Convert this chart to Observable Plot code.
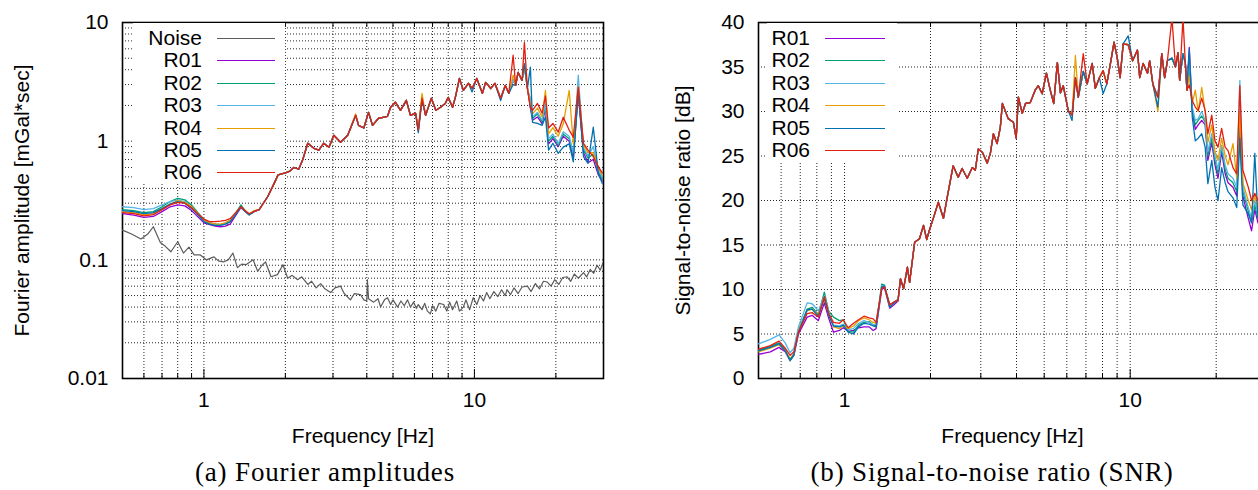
<!DOCTYPE html>
<html><head><meta charset="utf-8">
<script src="https://cdn.jsdelivr.net/npm/d3@7"></script>
<script src="https://cdn.jsdelivr.net/npm/@observablehq/plot@0.6"></script>
<style>
html,body{margin:0;padding:0;background:#fff;}
#wrap{position:relative;width:1258px;height:490px;overflow:hidden;background:#fff;font-family:"Liberation Sans",Arial,sans-serif;color:#000;}
.panel{position:absolute;top:0;}
.legend{position:absolute;background:#fff;}
.row{position:absolute;left:0;width:100%;height:22px;}
.row span{position:absolute;font-size:21px;line-height:22px;text-align:right;white-space:nowrap;}
.row i{position:absolute;top:11px;height:0;border-top:1.5px solid;}
.caption{position:absolute;font-family:"Liberation Serif",serif;font-size:27px;letter-spacing:0.85px;white-space:nowrap;transform:translateX(-50%);line-height:27px;height:27px;}
</style></head><body><div id="wrap"></div>
<script>
// ---------- shared ----------
const seriesNames = ["R01","R02","R03","R04","R05","R06"];
const seriesColors = ["#9400D3","#009E73","#56B4E9","#E69F00","#0072B2","#E51E10"];
const noiseColor = "#5c5c5c";
const xMajorTicks = [1, 10];
const xGridTicks = [0.6,0.7,0.8,0.9,1,2,3,4,5,6,7,8,9,10,20];

// ---------- (a) Fourier amplitudes ----------
const ampMajorTicks = [0.01, 0.1, 1, 10];
const ampGridTicks = [0.02,0.03,0.04,0.05,0.06,0.07,0.08,0.09,0.1,0.2,0.3,0.4,0.5,0.6,0.7,0.8,0.9,1,2,3,4,5,6,7,8,9];
const ampFreq = [0.5,0.55,0.6,0.65,0.7,0.75,0.8,0.85,0.9,0.95,1.0,1.05,1.1,1.15,1.2,1.25,1.3,1.37,1.42,1.47,1.53,1.6,
 1.72,1.8,1.88,2.0,2.08,2.15,2.24,2.32,2.42,2.55,2.66,2.77,2.9,3.02,3.2,3.4,3.64,3.73,3.9,4.06,4.2,4.42,4.6,4.77,4.9,5.1,5.33,5.6,5.8,6.06,6.2,6.4,6.6,6.93,7.2,7.5,7.8,8.0,8.3,8.5,8.8,9.1,9.5,9.8,10.2,10.7,11.0,11.5,11.9,12.5,13.0,13.4,13.9,14.2,14.5,15.0,15.3,15.7,
 16.1,16.4,17.1,17.8,18.3,18.8,19.5,20.4,21.3,22.4,23.2,24.2,25.3,26.3,27.5,28.7,29.7];
const ampR01 = [0.245,0.238,0.228,0.232,0.255,0.28,0.29,0.285,0.26,0.23,0.205,0.198,0.192,0.19,0.192,0.2,0.23,0.275,0.255,0.24,0.255,0.265,
 0.34,0.42,0.52,0.54,0.56,0.6,0.58,0.7,0.96,0.87,0.84,0.96,0.89,1.12,0.98,1.12,1.65,1.36,1.29,1.75,1.36,1.56,1.59,1.62,1.93,2.13,1.82,2.21,1.65,1.72,1.24,2.3,1.65,2.3,1.82,1.93,2.08,2.34,1.93,2.34,3.38,2.68,3.07,2.78,3.38,2.53,3.13,2.78,3.07,2.3,2.95,2.53,3.3,2.95,3.8,3.25,4.3,2.78,
 1.9,1.5,1.6,1.4,1.9,0.95,1.05,0.9,1.1,1.0,0.72,2.5,0.8,0.66,0.7,0.52,0.46];
const ampR02 = [0.265,0.26,0.25,0.255,0.28,0.31,0.33,0.32,0.29,0.25,0.22,0.205,0.2,0.197,0.2,0.21,0.24,0.29,0.26,0.24,0.255,0.265,
 0.34,0.42,0.52,0.54,0.56,0.6,0.58,0.7,0.96,0.87,0.84,0.96,0.89,1.12,0.98,1.12,1.65,1.36,1.29,1.75,1.36,1.56,1.59,1.62,1.93,2.13,1.82,2.21,1.65,1.72,1.24,2.3,1.65,2.3,1.82,1.93,2.08,2.34,1.93,2.34,3.38,2.68,3.07,2.78,3.38,2.53,3.13,2.78,3.07,2.3,2.95,2.53,3.3,2.95,3.8,3.25,4.3,2.78,
 2.0,1.55,1.7,1.45,2.0,1.0,1.1,0.92,1.15,1.05,0.78,2.6,0.85,0.72,0.78,0.55,0.48];
const ampR03 = [0.28,0.275,0.265,0.27,0.29,0.31,0.32,0.31,0.28,0.245,0.215,0.205,0.2,0.198,0.205,0.215,0.24,0.28,0.26,0.24,0.255,0.265,
 0.34,0.42,0.52,0.54,0.56,0.6,0.58,0.7,0.96,0.87,0.84,0.96,0.89,1.12,0.98,1.12,1.65,1.36,1.29,1.75,1.36,1.56,1.59,1.62,1.93,2.13,1.82,2.21,1.65,1.72,1.24,2.3,1.65,2.3,1.82,1.93,2.08,2.34,1.93,2.34,3.38,2.68,3.07,2.78,3.38,2.53,3.13,2.78,3.07,2.3,2.95,2.53,3.3,2.95,3.8,3.25,4.3,2.78,
 2.3,1.6,1.75,1.5,2.1,1.05,1.15,0.95,1.2,1.1,0.8,3.6,0.88,0.75,0.9,0.58,0.5];
const ampR04 = [0.255,0.25,0.24,0.245,0.27,0.295,0.315,0.305,0.28,0.245,0.215,0.205,0.2,0.2,0.205,0.215,0.24,0.28,0.255,0.24,0.26,0.265,
 0.34,0.42,0.52,0.54,0.56,0.6,0.58,0.7,0.96,0.87,0.84,0.96,0.89,1.12,0.98,1.12,1.7,1.36,1.29,1.75,1.36,1.56,1.59,1.62,1.93,2.13,1.82,2.21,1.65,1.72,1.24,2.53,1.65,2.3,1.82,1.93,2.08,2.34,1.93,2.34,3.38,2.68,3.07,2.78,3.38,2.53,3.13,2.78,3.07,2.3,2.95,2.53,3.6,2.95,3.8,3.25,4.3,2.78,
 2.1,1.7,1.9,1.6,2.68,1.15,1.3,1.1,1.4,2.68,0.95,2.9,0.92,0.8,0.8,0.6,0.52];
const ampR05 = [0.26,0.255,0.245,0.25,0.27,0.295,0.31,0.3,0.27,0.24,0.21,0.2,0.195,0.195,0.2,0.21,0.235,0.28,0.255,0.24,0.255,0.265,
 0.34,0.42,0.52,0.54,0.56,0.6,0.58,0.7,0.96,0.87,0.84,0.96,0.89,1.12,0.98,1.12,1.65,1.36,1.29,1.75,1.36,1.56,1.59,1.62,1.93,2.13,1.82,2.21,1.65,1.72,1.18,2.2,1.65,2.3,1.82,1.93,2.08,2.34,1.93,2.34,3.38,2.68,3.07,2.6,3.38,2.53,3.13,2.78,3.07,2.2,2.95,2.53,3.0,2.95,3.8,3.25,4.5,2.78,
 4.2,1.44,1.41,1.36,1.6,0.84,0.96,0.79,0.89,0.95,0.67,2.7,0.74,0.65,1.31,0.54,0.44];
const ampR06 = [0.25,0.245,0.235,0.24,0.265,0.29,0.305,0.3,0.275,0.245,0.22,0.21,0.21,0.212,0.215,0.222,0.245,0.28,0.26,0.245,0.255,0.265,
 0.34,0.42,0.52,0.54,0.56,0.6,0.58,0.7,0.96,0.87,0.84,0.96,0.89,1.12,0.98,1.12,1.65,1.36,1.29,1.75,1.36,1.56,1.59,1.62,1.93,2.13,1.82,2.21,1.65,1.72,1.24,2.3,1.65,2.3,1.82,1.93,2.08,2.34,1.93,2.34,3.38,2.68,3.07,2.78,3.38,2.53,3.13,2.78,3.07,2.3,2.95,2.53,5.3,2.95,3.8,3.25,6.8,2.78,
 1.93,1.82,2.08,1.72,2.4,1.29,1.41,1.19,1.59,1.24,1.08,2.85,0.96,0.84,0.74,0.61,0.54];
const noiseFreq = [0.5,0.54,0.585,0.62,0.65,0.69,0.72,0.755,0.8,0.84,0.88,0.92,0.97,1.02,1.09,1.13,1.18,1.23,1.28,1.33,1.38,1.43,1.52,1.58,1.64,1.69,1.77,1.87,1.96,2.04,2.12,2.22,2.3,2.42,2.5,2.6,2.7,2.8,2.94,3.05,3.2,3.3,3.48,3.6,3.79,3.9,4.0,4.02,4.06,4.24,4.4,4.5,4.65,4.77,4.9,5.0,5.2,5.35,5.5,5.66,5.8,5.96,6.1,6.2,6.4,6.55,6.7,6.87,7.0,7.2,7.4,7.7,7.9,8.1,8.3,8.6,8.8,9.1,9.3,9.6,9.9,10.2,10.5,10.8,11.1,11.4,11.8,12.2,12.6,13.0,13.2,13.6,14.0,14.5,15.0,15.7,16.2,16.8,17.4,18.0,18.6,19.2,19.8,20.5,21.2,22.0,22.7,23.4,24.2,25.3,26.0,26.8,27.6,28.4,29.2,29.9];
const noiseAmp = [0.178,0.165,0.15,0.165,0.19,0.14,0.13,0.117,0.142,0.114,0.128,0.11,0.11,0.1,0.106,0.098,0.096,0.1,0.114,0.086,0.092,0.091,0.1,0.08,0.09,0.096,0.072,0.075,0.091,0.07,0.074,0.068,0.072,0.062,0.066,0.058,0.063,0.057,0.053,0.058,0.06,0.052,0.046,0.052,0.051,0.046,0.045,0.068,0.047,0.044,0.047,0.04,0.046,0.048,0.042,0.046,0.04,0.045,0.041,0.046,0.04,0.044,0.039,0.042,0.038,0.043,0.037,0.035,0.041,0.037,0.043,0.042,0.037,0.044,0.038,0.045,0.037,0.04,0.046,0.038,0.048,0.042,0.05,0.045,0.053,0.047,0.054,0.049,0.056,0.05,0.056,0.051,0.058,0.052,0.059,0.06,0.054,0.063,0.057,0.066,0.065,0.06,0.068,0.062,0.071,0.072,0.066,0.076,0.07,0.078,0.072,0.083,0.077,0.09,0.082,0.095];

// ---------- (b) SNR ----------
const snrMajorTicks = [0,5,10,15,20,25,30,35,40];
const snrGridTicks = [5,10,15,20,25,30,35];
const snrFreq = [0.5,0.55,0.59,0.62,0.645,0.665,0.69,0.74,0.77,0.81,0.85,0.88,0.915,0.96,0.99,1.03,1.075,1.12,1.17,1.22,1.26,1.29,1.35,1.38,1.44,1.49,1.54,
 1.57,1.61,1.66,1.69,1.76,1.83,1.89,1.94,1.98,2.06,2.13,2.22,2.29,2.4,2.5,2.58,2.69,2.8,2.87,2.94,3.04,3.16,3.24,3.32,3.42,3.51,3.57,3.65,3.74,3.9,3.99,4.06,4.19,4.3,4.47,4.65,4.77,4.92,5.09,5.25,5.4,5.56,5.7,5.83,6.07,6.26,6.43,6.58,6.85,7.07,7.36,7.55,7.8,8.04,8.28,8.56,8.78,9.0,9.22,9.45,9.84,10.2,10.6,10.8,11.1,11.5,11.7,12.0,12.5,12.9,13.2,13.5,14.0,14.4,14.7,14.9,15.3,15.6,15.8,
 16.1,16.5,16.9,17.3,17.8,18.3,18.7,19.3,19.8,20.3,20.9,21.5,22.0,22.9,23.6,24.2,24.8,25.9,26.6,27.3,28.0,29.0,30.0];
const snrR01 = [2.7,3.0,3.5,3.0,2.0,2.6,5.0,6.9,7.1,6.5,8.5,6.8,5.2,5.4,5.7,5.3,5.4,5.7,5.8,5.8,5.4,5.6,10.0,10.2,7.9,8.3,8.7,
 11.2,10.1,12.5,10.8,15.3,15.7,17.2,15.6,16.6,18.3,19.8,18.0,20.4,23.9,22.6,23.6,22.5,23.7,23.4,25.8,25.4,24.2,25.3,27.5,26.4,28.2,30.9,30.1,29.2,28.8,27.0,31.6,29.8,30.9,31.0,32.4,32.9,32.0,34.3,32.4,30.9,35.5,32.1,32.9,30.1,29.6,33.8,31.6,34.5,33.1,35.4,32.6,33.8,34.6,33.1,35.7,37.8,36.1,33.8,37.6,37.5,35.7,36.9,33.8,35.4,34.3,35.7,33.1,31.6,36.5,33.8,35.7,36.0,35.0,36.6,33.5,36.5,35.4,32.4,
 37.2,30.0,28.0,28.5,29.0,28.5,24.5,26.5,24.0,22.5,25.5,23.0,22.0,21.5,20.5,28.0,20.5,18.0,16.6,19.0,17.5,17.0,16.5];
const snrR02 = [3.2,3.6,4.0,3.2,2.0,2.6,5.4,7.8,8.0,7.2,9.7,7.6,6.9,6.5,6.6,5.3,5.2,6.0,6.3,6.4,6.0,5.9,10.6,10.5,8.3,8.5,8.9,
 11.2,10.1,12.5,10.8,15.3,15.7,17.2,15.6,16.6,18.3,19.8,18.0,20.4,23.9,22.6,23.6,22.5,23.7,23.4,25.8,25.4,24.2,25.3,27.5,26.4,28.2,30.9,30.1,29.2,28.8,27.0,31.6,29.8,30.9,31.0,32.4,32.9,32.0,34.3,32.4,30.9,35.5,32.1,32.9,30.1,29.6,33.8,31.6,34.5,33.1,35.4,32.6,33.8,34.6,33.1,35.7,37.8,36.1,33.8,37.6,37.5,35.7,36.9,33.8,35.4,34.3,35.7,33.1,31.6,36.5,33.8,35.7,36.0,35.0,36.6,33.5,36.5,35.4,32.4,
 35.0,30.3,28.5,29.0,29.5,28.8,25.0,27.0,24.5,23.0,26.0,23.5,22.5,22.0,21.0,29.0,21.0,18.8,17.5,19.5,18.0,17.5,17.0];
const snrR03 = [3.9,4.4,4.9,4.0,2.9,3.4,5.8,8.5,8.4,7.6,9.3,7.5,6.0,5.9,6.1,5.5,5.6,6.2,6.5,6.3,6.0,6.1,10.4,10.4,8.2,8.6,8.9,
 11.2,10.1,12.5,10.8,15.3,15.7,17.2,15.6,16.6,18.3,19.8,18.0,20.4,23.9,22.6,23.6,22.5,23.7,23.4,25.8,25.4,24.2,25.3,27.5,26.4,28.2,30.9,30.1,29.2,28.8,27.0,31.6,29.8,30.9,31.0,32.4,32.9,32.0,34.3,32.4,30.9,35.5,32.1,32.9,30.1,29.6,33.8,31.6,34.5,33.1,35.4,32.6,33.8,34.6,33.1,35.7,37.8,36.1,33.8,37.6,37.5,35.7,36.9,33.8,35.4,34.3,35.7,33.1,31.6,36.5,33.8,35.7,36.0,35.0,36.6,33.5,36.5,35.4,32.4,
 35.5,30.5,29.0,29.2,30.0,29.0,25.5,27.5,25.0,23.5,26.2,24.0,23.0,22.5,21.5,33.5,21.5,19.2,18.0,20.0,18.5,18.0,17.5];
const snrR04 = [3.0,3.4,3.8,3.1,2.2,2.8,5.3,7.6,7.8,7.1,9.0,7.2,5.8,5.6,5.9,5.6,5.9,6.5,6.8,6.6,6.3,6.2,10.2,10.3,8.1,8.5,8.8,
 11.2,10.1,12.5,10.8,15.3,15.7,17.2,15.6,16.6,18.3,19.8,18.0,20.4,23.9,22.6,23.6,22.5,23.7,23.4,25.8,25.4,24.2,25.3,27.5,26.4,28.2,30.9,30.1,29.2,28.8,27.0,31.6,29.8,30.9,31.0,32.4,32.9,32.0,34.3,32.4,30.9,35.5,32.1,32.9,30.1,29.6,36.3,31.6,34.5,33.1,35.4,32.6,33.8,34.6,33.1,35.7,37.8,36.1,33.8,37.6,37.5,35.7,36.9,33.8,35.4,34.3,35.7,33.1,30.0,36.5,33.8,35.7,36.0,35.0,36.6,33.5,36.5,35.4,32.4,
 34.0,31.0,32.4,30.0,32.7,30.0,26.5,28.5,25.5,24.5,27.0,25.0,24.0,26.4,22.5,30.0,22.0,20.0,19.0,20.5,19.0,18.5,18.0];
const snrR05 = [3.1,3.5,3.9,3.1,2.1,2.7,5.2,7.7,7.8,7.0,9.0,7.1,5.9,5.8,6.0,5.2,5.0,5.8,6.2,6.1,5.9,5.8,10.3,10.4,8.0,8.5,8.8,
 11.2,10.1,12.5,10.8,15.3,15.7,17.2,15.6,16.6,18.3,19.8,18.0,20.4,23.9,22.6,23.6,22.5,23.7,23.4,25.8,25.4,24.2,25.3,27.5,26.4,28.2,30.9,30.1,29.2,28.8,27.0,31.6,29.8,30.9,31.0,32.4,32.9,32.0,34.3,32.4,30.9,35.5,32.1,32.9,30.1,29.0,33.8,31.6,34.5,33.1,35.4,32.6,33.8,32.0,33.1,35.7,37.8,36.1,33.8,37.6,38.5,35.7,36.9,33.8,35.4,34.3,35.7,33.1,30.5,36.5,33.8,35.7,36.0,35.0,36.6,33.5,36.5,35.4,32.4,
 37.0,29.3,26.7,27.0,27.5,26.0,21.9,24.5,21.5,20.0,23.7,22.0,21.0,20.3,19.2,27.0,19.5,18.5,17.5,25.3,18.0,17.5,17.0];
const snrR06 = [3.3,3.7,4.2,3.4,2.6,3.0,5.2,7.3,7.4,6.9,9.2,7.3,6.3,6.2,6.6,5.7,6.2,6.6,7.0,6.8,6.7,6.3,10.1,10.3,8.3,8.6,8.8,
 11.2,10.1,12.5,10.8,15.3,15.7,17.2,15.6,16.6,18.3,19.8,18.0,20.4,23.9,22.6,23.6,22.5,23.7,23.4,25.8,25.4,24.2,25.3,27.5,26.4,28.2,30.9,30.1,29.2,28.8,27.0,31.6,29.8,30.9,31.0,32.4,32.9,32.0,34.3,32.4,30.9,35.5,32.1,32.9,30.1,29.6,33.8,31.6,36.5,33.1,35.4,32.6,33.8,34.6,33.1,35.7,37.8,36.1,33.8,37.6,37.5,35.7,36.9,33.8,35.4,34.3,35.7,33.1,31.6,36.5,33.8,35.7,40.5,35.0,36.6,33.5,40.5,35.4,32.4,
 33.0,31.2,30.5,30.1,31.5,30.1,27.5,29.6,26.7,26.0,28.1,26.0,25.6,23.7,23.0,32.9,23.4,21.5,20.0,20.8,20.0,19.0,18.5];

// ---------- build tables ----------
const ampSeries = [ampR01, ampR02, ampR03, ampR04, ampR05, ampR06];
const snrSeries = [snrR01, snrR02, snrR03, snrR04, snrR05, snrR06];
const ampRows = [], snrRows = [];
seriesNames.forEach((s, i) => {
  ampFreq.forEach((f, j) => ampRows.push({f, v: ampSeries[i][j], s}));
  snrFreq.forEach((f, j) => snrRows.push({f, v: snrSeries[i][j], s}));
});
const noiseRows = noiseFreq.map((f, j) => ({f, v: noiseAmp[j]}));

const gridStyle = {stroke: "#000", strokeOpacity: 0.85, strokeDasharray: "1,2", strokeWidth: 1};
const H = 450, MT = 22, MB = 72, PH = H - MT - MB;
const fontStyle = {fontFamily: "'Liberation Sans', Arial, sans-serif", fontSize: "21px", color: "#000", background: "transparent", overflow: "visible"};

function frameTicks(xMinor, xMajor) {
  return [
    Plot.tickX(xMajor, {x: d => d, insetTop: PH - 9, stroke: "#000"}),
    Plot.tickX(xMajor, {x: d => d, insetBottom: PH - 9, stroke: "#000"}),
    Plot.tickX(xMinor, {x: d => d, insetTop: PH - 5, stroke: "#000"}),
    Plot.tickX(xMinor, {x: d => d, insetBottom: PH - 5, stroke: "#000"})
  ];
}
const xMinorTicks = xGridTicks.filter(d => !xMajorTicks.includes(d));

const geomA = {width: 629, height: H, marginLeft: 122, marginRight: 26, marginTop: MT, marginBottom: MB};
const geomB = {width: 636, height: H, marginLeft: 118, marginRight: 10, marginTop: MT, marginBottom: MB};

// base layers: grid, ticks, axes, frame
const baseA = Plot.plot({
  ...geomA, style: fontStyle,
  x: {type: "log", domain: [0.5, 30], ticks: xMajorTicks, tickFormat: d => String(d), tickSize: 0, tickPadding: 14,
      label: "Frequency [Hz]", labelAnchor: "center", labelOffset: 64, labelArrow: "none"},
  y: {type: "log", domain: [0.01, 10], ticks: ampMajorTicks, tickFormat: d => String(d), tickSize: 0, tickPadding: 14,
      label: "Fourier amplitude [mGal*sec]", labelAnchor: "center", labelOffset: 108, labelArrow: "none"},
  marks: [
    Plot.ruleX(xGridTicks, {x: d => d, ...gridStyle}),
    Plot.ruleY(ampGridTicks, {y: d => d, ...gridStyle}),
    ...frameTicks(xMinorTicks, xMajorTicks),
    Plot.frame({stroke: "#000", strokeWidth: 1.6})
  ]
});
// data layer (drawn above the legend box)
const linesA = Plot.plot({
  ...geomA, style: {background: "transparent", overflow: "visible"},
  x: {type: "log", domain: [0.5, 30], axis: null},
  y: {type: "log", domain: [0.01, 10], axis: null},
  color: {domain: seriesNames, range: seriesColors},
  marks: [
    Plot.line(noiseRows, {x: "f", y: "v", stroke: noiseColor, strokeWidth: 1.2, clip: true}),
    Plot.line(ampRows, {x: "f", y: "v", z: "s", stroke: "s", strokeWidth: 1.3, clip: true})
  ]
});

const baseB = Plot.plot({
  ...geomB, style: fontStyle,
  x: {type: "log", domain: [0.5, 30], ticks: xMajorTicks, tickFormat: d => String(d), tickSize: 0, tickPadding: 14,
      label: "Frequency [Hz]", labelAnchor: "center", labelOffset: 64, labelArrow: "none"},
  y: {type: "linear", domain: [0, 40], ticks: snrMajorTicks, tickFormat: d => String(d), tickSize: 0, tickPadding: 14,
      label: "Signal-to-noise ratio [dB]", labelAnchor: "center", labelOffset: 83, labelArrow: "none"},
  marks: [
    Plot.ruleX(xGridTicks, {x: d => d, ...gridStyle}),
    Plot.ruleY(snrGridTicks, {y: d => d, ...gridStyle}),
    ...frameTicks(xMinorTicks, xMajorTicks),
    Plot.frame({stroke: "#000", strokeWidth: 1.6})
  ]
});
const linesB = Plot.plot({
  ...geomB, style: {background: "transparent", overflow: "visible"},
  x: {type: "log", domain: [0.5, 30], axis: null},
  y: {type: "linear", domain: [0, 40], axis: null},
  color: {domain: seriesNames, range: seriesColors},
  marks: [
    Plot.line(snrRows, {x: "f", y: "v", z: "s", stroke: "s", strokeWidth: 1.3, clip: true})
  ]
});

const wrap = document.getElementById("wrap");
function place(node, left) {
  node.classList.add("panel");
  node.style.left = left + "px";
  wrap.appendChild(node);
}

function legend(left, top, width, height, entries, textRight, lineLeft, lineRight) {
  const box = document.createElement("div");
  box.className = "legend";
  box.style.left = left + "px"; box.style.top = top + "px"; box.style.width = width + "px";
  box.style.height = height + "px";
  entries.forEach(([name, color], k) => {
    const row = document.createElement("div");
    row.className = "row";
    row.style.top = (4 + k * 22.4) + "px";
    const t = document.createElement("span");
    t.textContent = name;
    t.style.right = (width - textRight) + "px";
    const l = document.createElement("i");
    l.style.left = lineLeft + "px"; l.style.width = (lineRight - lineLeft) + "px";
    l.style.borderTopColor = color;
    row.appendChild(t); row.appendChild(l);
    box.appendChild(row);
  });
  wrap.appendChild(box);
}

place(baseA, 0);
place(baseB, 640);
legend(133, 23, 152, 160, [["Noise", noiseColor], ...seriesNames.map((s, i) => [s, seriesColors[i]])], 69, 84, 142);
legend(767, 23, 130, 139, seriesNames.map((s, i) => [s, seriesColors[i]]), 43, 58, 118);
place(linesA, 0);
place(linesB, 640);

function caption(text, cx) {
  const d = document.createElement("div");
  d.className = "caption";
  d.textContent = text;
  d.style.left = cx + "px";
  d.style.top = "459px";
  wrap.appendChild(d);
}
caption("(a) Fourier amplitudes", 325);
caption("(b) Signal-to-noise ratio (SNR)", 992);
</script></body></html>
